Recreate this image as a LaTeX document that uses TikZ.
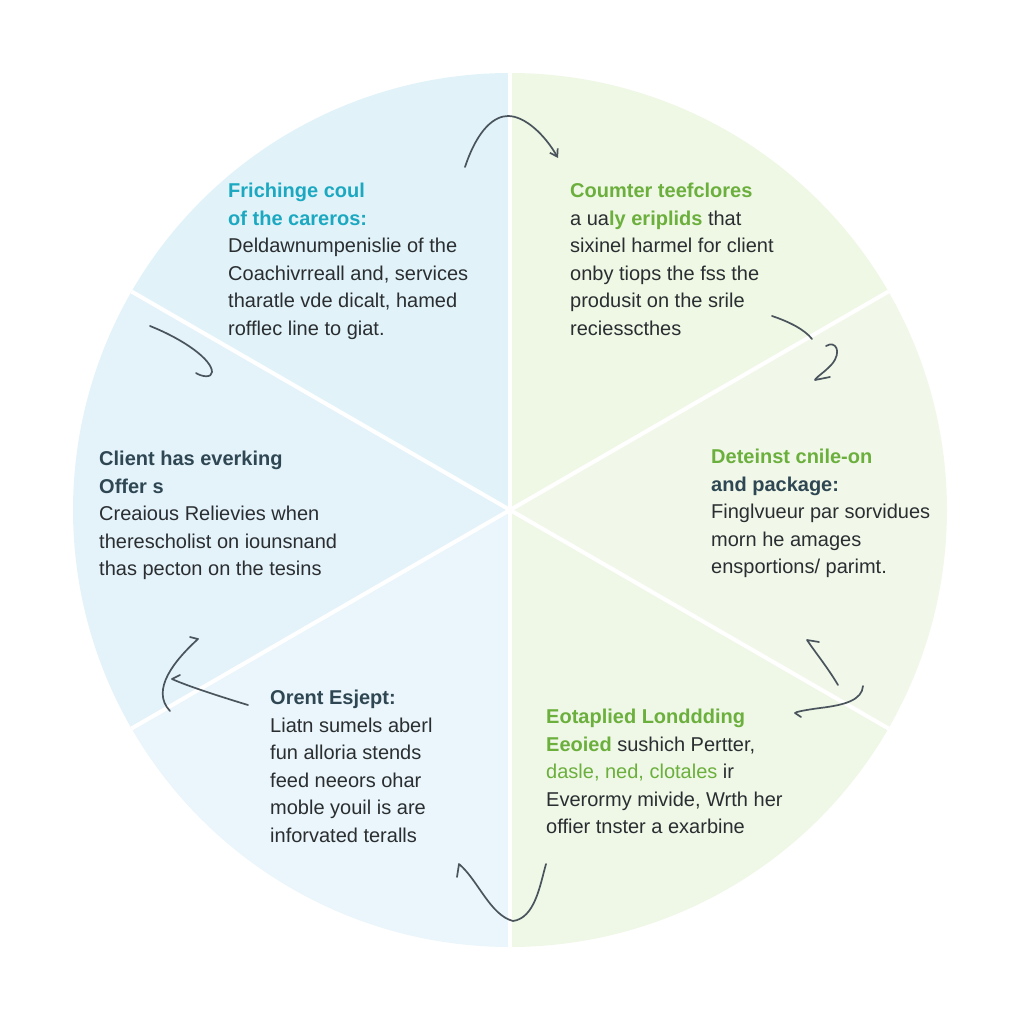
\documentclass[tikz,border=0pt]{standalone}
\usepackage{fontspec}
\setmainfont{Liberation Sans}
\usetikzlibrary{arrows.meta}
\definecolor{blauA}{HTML}{E1F3F9}
\definecolor{blauB}{HTML}{E4F2FA}
\definecolor{blauC}{HTML}{EAF6FB}
\definecolor{gruenA}{HTML}{EFF7E5}
\definecolor{gruenB}{HTML}{F1F8EA}
\definecolor{gruenC}{HTML}{EFF7E7}
\definecolor{tuerkis}{HTML}{1CA8C1}
\definecolor{gruen}{HTML}{6BAF3C}
\definecolor{schiefer}{HTML}{2E4753}
\definecolor{fliess}{HTML}{2A2E31}
\definecolor{stift}{HTML}{4A545C}

\begin{document}
\begin{tikzpicture}[x=1pt, y=-1pt,
    blurb/.style={anchor=north west, align=left, inner sep=0pt,
                  font=\fontsize{20}{27.5}\selectfont, text=fliess},
    stroke/.style={draw=stift, line width=1.7pt, line cap=round, line join=round}
  ]
  \useasboundingbox (0,0) rectangle (1024,1024);

  % sectors
  \foreach \a/\c in {-90/blauA, -150/blauB, -210/blauC,
                     -270/gruenC, -330/gruenB, -30/gruenA}
    \fill[\c] (510,510) -- ++(\a:437) arc[start angle=\a, end angle=\a-60, radius=437] -- cycle;
  \foreach \a in {30,90,...,330}
    \draw[white, line width=4pt] (510,510) -- ++(\a:437);

  % texts
  \node[blurb] (tl) at (228,183)
    {\textcolor{tuerkis}{\bfseries Frichinge coul}\\
     \textcolor{tuerkis}{\bfseries of the careros:}\\
     Deldawnumpenislie of the\\
     Coachivrreall and, services\\
     tharatle vde dicalt, hamed\\
     rofflec line to giat.};
  \node[blurb] (tr) at (570,183)
    {\textcolor{gruen}{\bfseries Coumter teefclores}\\
     a ua\textcolor{gruen}{\bfseries ly eriplids} that\\
     sixinel harmel for client\\
     onby tiops the fss the\\
     produsit on the srile\\
     reciesscthes};
  \node[blurb] (ml) at (99,451)
    {\textcolor{schiefer}{\bfseries Client has everking}\\
     \textcolor{schiefer}{\bfseries Offer s}\\
     Creaious Relievies when\\
     therescholist on iounsnand\\
     thas pecton on the tesins};
  \node[blurb] (mr) at (711,449)
    {\textcolor{gruen}{\bfseries Deteinst cnile-on}\\
     \textcolor{schiefer}{\bfseries and package:}\\
     Finglvueur par sorvidues\\
     morn he amages\\
     ensportions/ parimt.};
  \node[blurb] (bl) at (270,690)
    {\textcolor{schiefer}{\bfseries Orent Esjept:}\\
     Liatn sumels aberl\\
     fun alloria stends\\
     feed neeors ohar\\
     moble youil is are\\
     inforvated teralls};
  \node[blurb] (br) at (546,709)
    {\textcolor{gruen}{\bfseries Eotaplied Londdding}\\
     \textcolor{gruen}{\bfseries Eeoied} sushich Pertter,\\
     \textcolor{gruen}{dasle, ned, clotales} ir\\
     Everormy mivide, Wrth her\\
     offier tnster a exarbine};

  % pencil strokes
  \draw[stroke, -{Straight Barb[length=7pt, width=9pt]}] (465,167)
    .. controls (478,128) and (495,116) .. (508,116)
    .. controls (525,116) and (545,135) .. (558,158);
  \draw[stroke] (150,326) .. controls (185,340) and (212,360) .. (212,372)
    .. controls (212,378) and (202,377) .. (196,373);
  \draw[stroke] (772,316) .. controls (790,322) and (805,330) .. (812,339);
  \draw[stroke] (826,346) .. controls (836,340) and (842,352) .. (832,364)
    .. controls (825,372) and (815,378) .. (815,380) -- (830,377);
  \draw[stroke] (190,637) -- (198,639) .. controls (175,660) and (150,690) .. (170,711);
  \draw[stroke] (248,705) .. controls (215,695) and (185,685) .. (172,679) -- (180,675);
  \draw[stroke] (838,685) .. controls (828,668) and (815,652) .. (807,640) -- (819,642);
  \draw[stroke] (863,686) .. controls (862,700) and (845,705) .. (820,708)
    .. controls (805,710) and (795,712) .. (795,713) -- (801,717);
  \draw[stroke] (457,877) -- (459,864) .. controls (478,880) and (490,915) .. (513,921)
    .. controls (535,918) and (540,885) .. (546,864);
\end{tikzpicture}
\end{document}
